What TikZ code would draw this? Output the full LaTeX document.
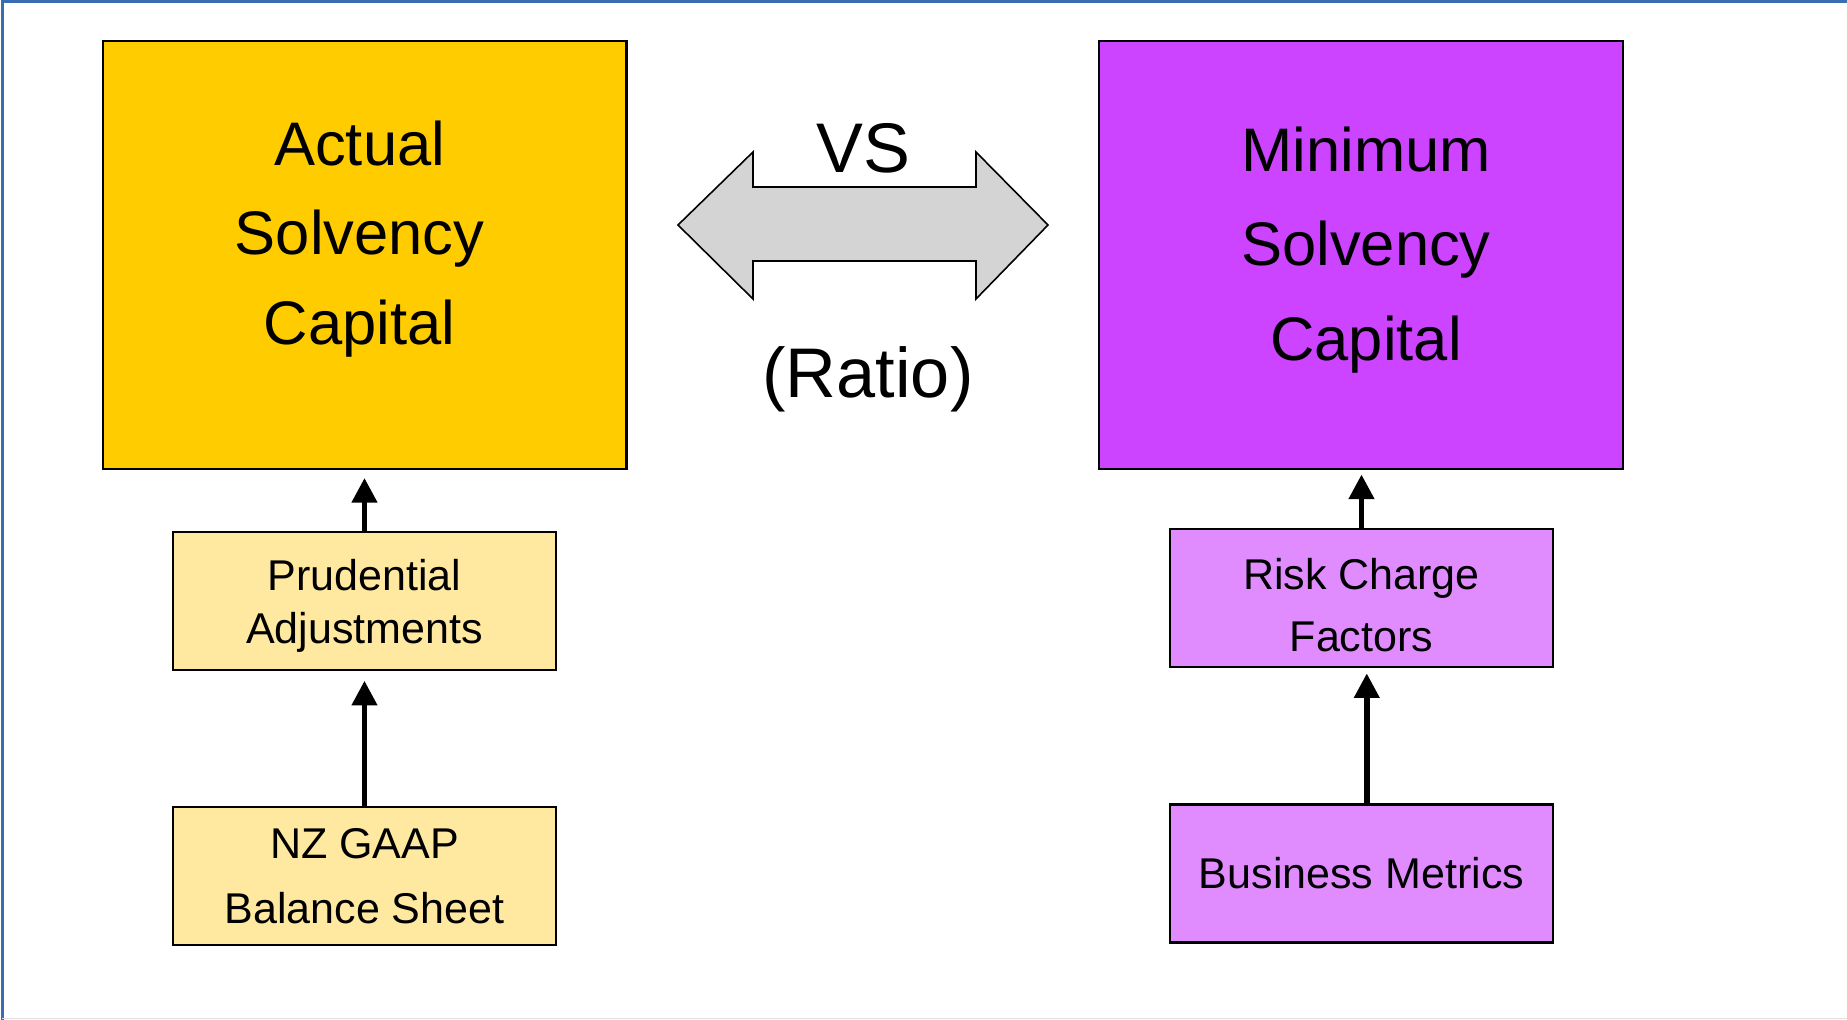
\documentclass[tikz,border=0pt]{standalone}
\usepackage{fontspec}
\setmainfont{Liberation Sans}
\usetikzlibrary{calc,arrows.meta}

\definecolor{frameblue}{HTML}{3A6CB4}
\definecolor{actualfill}{HTML}{FFCC00}
\definecolor{actuallight}{HTML}{FFE9A1}
\definecolor{minfill}{HTML}{CC44FF}
\definecolor{minlight}{HTML}{E08CFF}
\definecolor{vsgrey}{HTML}{D4D4D4}

\begin{document}
\begin{tikzpicture}[x=0.02cm, y=-0.02cm,
        uparrow/.style={line width=3.1pt, -{Triangle[width=14pt,length=14pt]}},
    ]
    % big capital boxes
    \tikzstyle{bigbox}=[draw=black, line width=1.3pt, inner sep=0, minimum width=10.48cm, minimum height=8.56cm]
    % small input boxes
    \tikzstyle{smallbox}=[draw=black, line width=1.3pt, inner sep=0, minimum width=7.66cm, minimum height=2.76cm]
    % box texts, set apart from the boxes
    \tikzstyle{boxtext}=[inner sep=0, align=center, font=\fontsize{24.5}{30}\selectfont]
    \useasboundingbox (0,0) rectangle (1847,1020);
    \draw[frameblue, line width=1.6pt] (2.5,1020) -- (2.5,1.5) -- (1847,1.5);
    \draw[black!12, line width=0.8pt] (2.5,1018.5) -- (1847,1018.5);

    % left column
    \node[bigbox, fill=actualfill] (ASC) at (364.6,255) {};
    \node[boxtext, font=\fontsize{35}{51}\selectfont] (ASCtxt) at ($(ASC)+(-5,-16)$) {Actual\\Solvency\\Capital};
    \node[smallbox, fill=actuallight] (PA) at (364.5,601) {};
    \node[boxtext] (PAtxt) at ($(PA)+(0,5)$) {Prudential\\Adjustments};
    \node[smallbox, fill=actuallight] (NZG) at (364.5,876) {};
    \node[boxtext, font=\fontsize{24.5}{37}\selectfont] (NZGtxt) at (NZG) {NZ GAAP\\Balance Sheet};

    % right column
    \node[bigbox, fill=minfill] (MSC) at (1361,255) {};
    \node[boxtext, font=\fontsize{35}{54}\selectfont] (MSCtxt) at ($(MSC)+(5,-5)$) {Minimum\\Solvency\\Capital};
    \node[smallbox, fill=minlight] (RCF) at (1361.5,598) {};
    \node[boxtext, font=\fontsize{24.5}{35}\selectfont] (RCFtxt) at ($(RCF)+(0,7)$) {Risk Charge\\Factors};
    \node[smallbox, fill=minlight] (BM) at (1361.5,873.5) {};
    \node[boxtext] (BMtxt) at (BM) {Business Metrics};

    % double arrow between the two capitals
    \coordinate (VSL) at (678,225);
    \coordinate (VSR) at (1048,225);
    \draw[fill=vsgrey, line width=0.9pt, line join=miter] (VSL) -- ++(75,-73) -- ++(0,35) -- ++(223,0) -- ++(0,-35)
        -- (VSR) -- ++(-72,74) -- ++(0,-38) -- ++(-223,0) -- ++(0,38) -- cycle;
    \node[inner sep=0, font=\fontsize{40}{48}\selectfont] (VS) at (863,148) {VS};
    \node[inner sep=0, anchor=base, font=\fontsize{40}{48}\selectfont] (ratio) at (868,398) {(Ratio)};

    \draw[uparrow, shorten >=4.5pt] (PA.north) -- (PA.north |- ASC.south);
    \draw[uparrow, shorten >=5.5pt] (NZG.north) -- (NZG.north |- PA.south);
    \draw[uparrow, shorten >=2.5pt] (RCF.north) -- (RCF.north |- MSC.south);
    \draw[uparrow, shorten >=3pt] ([xshift=3]BM.north) -- ([xshift=3]BM.north |- RCF.south);
\end{tikzpicture}
\end{document}
